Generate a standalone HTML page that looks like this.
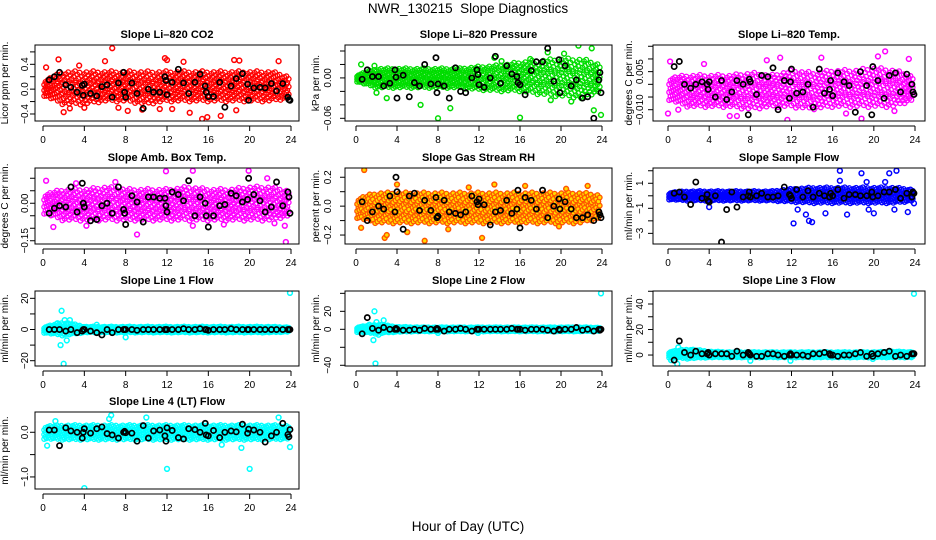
<!DOCTYPE html>
<html><head><meta charset="utf-8">
<style>
html,body{margin:0;padding:0;background:#fff;}
svg{display:block;font-family:"Liberation Sans",sans-serif;}
</style></head>
<body>
<svg id="chart" width="936" height="540" viewBox="0 0 936 540" xmlns="http://www.w3.org/2000/svg">
<text x="468" y="13" text-anchor="middle" font-size="13.5" style="white-space:pre">NWR_130215  Slope Diagnostics</text>
<text x="468" y="531" text-anchor="middle" font-size="13.5">Hour of Day (UTC)</text>
</svg>
<script>
// ---- data ----
const bandHours = [0,2,4,6,8,10,12,14,16,18,20,22,24];
const blackHours = [0.6,1.1,1.6,2.2,2.7,3.3,3.8,3.9,4,4.6,5.2,5.7,6.2,6.7,7.3,7.8,7.9,8,8.6,9.1,9.7,10.2,10.7,11.3,11.8,11.9,12,12.5,13.1,13.6,14.1,14.7,15.2,15.7,15.8,16,16.5,17.1,17.6,18.2,18.7,19.3,19.8,19.9,20.4,21,21.5,22.1,22.6,23.2,23.7,23.8,23.9];

const co2Lo = [-0.1,-0.25,-0.25,-0.2,-0.2,-0.25,-0.2,-0.2,-0.2,-0.2,-0.2,-0.2,-0.15];
const co2Hi = [0.15,0.3,0.3,0.3,0.3,0.3,0.3,0.3,0.3,0.3,0.3,0.3,0.2];
const co2OutH = [1.5,6.7,2,7.3,11.8,12,15.4,15.9,17.2,18.7,18.5,13.6,6,4,9.6,12.5,11.3,3.5,0.3,22.8,2.6,19,8.2,14.2];
const co2OutV = [0.48,0.66,-0.37,-0.3,0.5,0.47,-0.48,-0.45,-0.43,-0.34,0.47,0.44,0.45,-0.3,-0.33,-0.32,-0.32,0.38,0.35,0.45,-0.31,0.46,-0.35,-0.38];
const co2Blk = [0.15,0.2,0.27,0.07,0.03,-0.05,0.06,-0.1,0.08,-0.07,-0.11,0.04,0.07,-0.13,0.1,0.27,-0.05,-0.13,0.1,-0.07,-0.31,0.0,-0.05,-0.05,0.2,0.14,-0.09,0.11,0.32,0.1,-0.07,0.11,0.24,0.05,-0.05,-0.12,-0.12,0.11,-0.29,0.05,0.17,0.25,0.08,-0.18,0.02,0.03,0.02,0.09,-0.03,0.09,-0.13,-0.17,-0.18];

const presLo = [-0.005,-0.015,-0.015,-0.015,-0.015,-0.015,-0.018,-0.02,-0.02,-0.025,-0.028,-0.03,-0.02];
const presHi = [0.005,0.015,0.015,0.015,0.015,0.015,0.018,0.02,0.025,0.028,0.03,0.03,0.02];
const presOutH = [8,16,9.2,6.3,3,21.7,23,18.7,20.3,23.2,23.9,19,21,14.2,17,2,0.5,1.8,22,13.5];
const presOutV = [-0.06,-0.059,-0.045,-0.04,-0.03,0.048,0.044,0.038,0.036,-0.048,-0.055,-0.033,-0.035,0.025,0.028,-0.022,0.02,0.018,-0.03,0.03];
const presBlk = [-0.002,0.012,0.002,0.002,-0.012,-0.008,0.012,0.001,-0.03,0.004,-0.028,-0.007,-0.012,0.02,-0.009,0.03,-0.022,-0.009,-0.012,-0.03,0.015,-0.02,-0.022,0.0,0.012,0.005,-0.01,-0.014,0.0,0.032,-0.008,0.018,0.006,0.002,-0.007,-0.01,-0.025,0.011,0.024,0.024,0.044,-0.005,0.027,-0.022,0.018,-0.012,-0.003,-0.03,-0.028,-0.06,-0.003,0.008,-0.022];

const tempLo = [-0.006,-0.009,-0.009,-0.009,-0.01,-0.009,-0.009,-0.01,-0.009,-0.009,-0.009,-0.009,-0.006];
const tempHi = [0.003,0.004,0.004,0.004,0.005,0.004,0.006,0.005,0.006,0.006,0.007,0.006,0.003];
const tempOutH = [0,0.2,6,6.7,11.6,18.8,21.1,10.9,14.9,20.4,22,23.4,17.3,9.6,1,3.5];
const tempOutV = [-0.0115,0.009,-0.0125,-0.0125,-0.014,-0.0135,0.013,0.0105,0.0105,0.011,-0.0105,0.01,-0.0115,0.0095,-0.01,0.008];
const tempBlk = [0.007,0.009,0.0,-0.0015,0.0,0.001,0.0,-0.002,0.001,-0.005,0.0015,-0.006,-0.003,0.0015,0.0,-0.012,0.002,0.001,-0.004,0.0035,0.003,0.0065,-0.01,0.0015,-0.0055,0.001,0.006,-0.0035,-0.003,0.0,-0.009,0.006,-0.0035,-0.002,0.0015,-0.0045,0.0045,0.001,-0.0005,-0.011,0.005,-0.0005,-0.012,0.007,0.0015,-0.0055,0.0035,0.0045,-0.003,0.004,0.0,-0.003,-0.004];

const ambLo = [-0.04,-0.07,-0.07,-0.07,-0.07,-0.07,-0.07,-0.07,-0.07,-0.07,-0.07,-0.07,-0.05];
const ambHi = [0.04,0.06,0.06,0.07,0.06,0.06,0.06,0.07,0.06,0.06,0.07,0.07,0.05];
const ambOutH = [0.3,1,11.9,14.5,19.9,21.7,23.5,9.1,4.2,14.5,22.4,23.4,7,3.2,17.5];
const ambOutV = [0.09,-0.095,0.128,0.13,0.13,0.1,-0.155,-0.125,-0.09,-0.09,-0.08,-0.09,0.085,0.08,-0.085];
const ambBlk = [-0.04,-0.02,-0.01,-0.015,0.065,-0.035,0.08,0.0,-0.015,-0.07,-0.065,-0.01,0.0,-0.04,0.065,-0.025,-0.04,-0.085,0.03,0.005,-0.075,0.025,0.025,0.02,0.02,-0.01,-0.035,0.045,0.035,0.01,0.09,-0.05,0.025,0.0,-0.05,-0.095,-0.05,-0.01,-0.005,0.04,0.03,0.005,0.015,0.1,0.035,0.01,-0.035,-0.015,0.085,-0.01,0.045,0.025,-0.04];

const rhLo = [-0.08,-0.12,-0.12,-0.12,-0.12,-0.12,-0.12,-0.12,-0.12,-0.12,-0.12,-0.12,-0.08];
const rhHi = [0.06,0.1,0.1,0.1,0.1,0.1,0.1,0.1,0.1,0.1,0.1,0.1,0.08];
const rhOutH = [0.8,6.7,2.8,12.3,3,5,13.5,4,20.5,22.6,16.5,0.5,9,11,19.8];
const rhOutV = [0.25,-0.24,-0.22,-0.22,-0.2,-0.18,0.15,0.15,0.12,0.14,0.14,-0.15,-0.16,0.13,-0.14];
const rhBlk = [0.03,-0.1,-0.04,0.0,-0.02,0.07,-0.04,0.2,0.1,-0.16,0.07,0.09,-0.03,0.04,-0.03,0.06,-0.08,-0.07,0.04,-0.04,-0.05,-0.06,-0.04,0.07,0.03,0.01,0.05,0.01,-0.13,-0.04,-0.03,0.04,-0.05,-0.02,0.11,-0.15,0.06,0.04,-0.02,0.11,-0.08,0.0,0.05,-0.02,0.03,-0.02,-0.08,-0.08,-0.06,-0.1,-0.04,-0.06,-0.08];

const flowLo = [-0.3,-0.4,-0.4,-0.4,-0.4,-0.4,-0.5,-0.6,-0.6,-0.6,-0.6,-0.6,-0.4];
const flowHi = [0.3,0.4,0.4,0.4,0.4,0.4,0.6,0.7,0.7,0.7,0.7,0.7,0.5];
const flowOutH = [16.7,18.8,22.2,21.5,12.2,13.7,14,13.4,15.3,20,23.3,17.4,19.5,22,16.7,19.3,21.1,12.6,4,23.9];
const flowOutV = [2.0,1.8,2.0,1.8,-2.2,-2.0,-2.1,-1.5,-1.4,-1.4,-1.3,-1.5,-1.1,-1.1,1.2,1.1,1.1,-1.1,-0.9,-0.6];
const flowBlk = [0.2,0.3,-0.1,-0.7,1.1,-0.2,0.1,-0.4,-0.5,0.0,-3.7,-1.1,0.3,-0.9,-0.1,0.0,0.3,-0.1,0.0,0.2,-0.1,-0.1,0.0,0.7,0.1,0.0,-0.2,0.5,-0.1,0.4,-0.1,0.2,0.0,-0.1,0.2,0.0,0.5,-0.2,0.1,0.1,0.0,0.0,0.3,-0.1,0.0,0.3,0.3,0.5,-0.2,0.2,-0.1,0.3,0.2];

const l1Lo = [-2,-4,-2,-2,-2,-2,-2,-2,-2,-2,-2,-2,-1.5];
const l1Hi = [2,5,2,2,2,2,2,2,2,2,2,2,1.5];
const l1OutH = [1.8,1.7,2,2.3,2.6,2.1,8,23.9,5.2,1.4];
const l1OutV = [12,-10,-22,-7,6,6,-5,23.5,3,4];
const l1Blk = [0,0,0,-1,0,-2,-1,0,0,-1,-2,-3.5,0,-2,0,0,0,0,0,-0.5,0,0,0,0,0,0,0,0,0,0.5,0,0,0.5,0,0,-0.5,0,0,0,0.5,0,0,0,0,0,0,0,0,0,0,0,0,0];

const l2Lo = [-3,-5,-3,-2.5,-2.5,-2.5,-2.5,-2.5,-2.5,-2.5,-2.5,-2.5,-2];
const l2Hi = [3,6,3,2.5,2.5,2.5,2.5,2.5,2.5,2.5,2.5,2.5,2];
const l2OutH = [1.8,1.7,1.9,2.2,2.7,2,23.9,8,11.9,1.3];
const l2OutV = [20,-12,-38,-6,10,8,40,-4,-4,5];
const l2Blk = [-5,13,1,-1,2,0,0,1,0,-1,-1,0,-1,1,0,0,1,0,-2,0,0,1,0,-2,0,0,0,0,0,0,0,0,1,0,0,0,-1,0,0,0,-1,-2,0,-1,0,0,2,-1,0,-2,0,-1,0];

const l3Lo = [-2,-3,-2,-2,-2,-2,-2,-2,-2,-2,-2,-2,-2];
const l3Hi = [3,5,3,2.5,2.5,2.5,2.5,2.5,2.5,2.5,2.5,3,2.5];
const l3OutH = [0.9,8,11.9,23.9,1,19.9,0.3];
const l3OutV = [-7,-4.5,-4.5,48,6,-3,-4];
const l3Blk = [-4,11,2,0,3,1,1,2,0,1,1,1,-1,3,0,2,1,0,-1,-1,1,1,0,-1,0,1,0,0,0,-1,1,1,2,1,0,0,-1,0,0,1,2,-1,1,-1,1,2,3,-1,0,-1,1,1,1];

const l4Lo = [-0.15,-0.17,-0.17,-0.17,-0.17,-0.17,-0.17,-0.17,-0.17,-0.17,-0.17,-0.17,-0.15];
const l4Hi = [0.15,0.17,0.17,0.17,0.17,0.17,0.17,0.17,0.17,0.17,0.17,0.17,0.15];
const l4OutH = [4,12,20,6.6,10,22.8,23.9,0.4,19.2,17.3,1.2,6.4];
const l4OutV = [-1.25,-0.82,-0.82,0.38,0.33,0.33,-0.33,-0.3,-0.35,-0.28,0.25,0.3];
const l4Blk = [0.05,0.05,-0.3,0.1,0.03,0.0,-0.13,0.0,0.08,-0.02,0.08,0.12,-0.03,-0.06,-0.13,0.0,0.02,-0.01,-0.02,-0.2,0.15,-0.13,0.03,0.05,-0.08,-0.2,0.1,0.04,-0.12,-0.15,0.08,0.06,0.0,0.2,-0.06,-0.08,0.04,-0.12,0.0,0.03,0.01,0.18,-0.02,0.07,0.05,0.0,-0.22,-0.08,0.0,0.2,-0.05,-0.1,0.06];

const xTicks = [0,4,8,12,16,20,24];

// ---- layout ----
const cols = [{l:35,r:299,x0:43,x24:291,tl:28,yl:8},{l:345,r:612,x0:356,x24:602,tl:331,yl:319},{l:653,r:925,x0:668,x24:915,tl:643,yl:632}];
const rows = [{t:45,b:121},{t:168,b:244},{t:291,b:366},{t:412,b:489}];

const panels = [
 {name:'co2',title:'Slope Li\u2013820 CO2',ylab:'Licor ppm per min.',c:0,r:0,ymin:-0.513,ymax:0.711,ticks:[-0.4,-0.2,0,0.2,0.4,0.6],labs:[[-0.4,'\u22120.4'],[0,'0.0'],[0.4,'0.4']],col:'#ff0000',fill:'none',lo:co2Lo,hi:co2Hi,oh:co2OutH,ov:co2OutV,bk:co2Blk},
 {name:'pressure',title:'Slope Li\u2013820 Pressure',ylab:'kPa per min.',c:1,r:0,ymin:-0.064,ymax:0.0489,ticks:[-0.06,-0.04,-0.02,0,0.02,0.04],labs:[[-0.06,'\u22120.06'],[0,'0.00']],col:'#00dd00',fill:'none',lo:presLo,hi:presHi,oh:presOutH,ov:presOutV,bk:presBlk},
 {name:'temp',title:'Slope Li\u2013820 Temp.',ylab:'degrees C per min.',c:2,r:0,ymin:-0.01445,ymax:0.0155,ticks:[-0.01,-0.005,0,0.005,0.01,0.015],labs:[[-0.01,'\u22120.010'],[0.005,'0.005']],col:'#ff00ff',fill:'none',lo:tempLo,hi:tempHi,oh:tempOutH,ov:tempOutV,bk:tempBlk},
 {name:'amb-box-temp',title:'Slope Amb. Box Temp.',ylab:'degrees C per min.',c:0,r:1,ymin:-0.163,ymax:0.141,ticks:[-0.15,-0.1,-0.05,0,0.05,0.1],labs:[[-0.15,'\u22120.15'],[0,'0.00']],col:'#ff00ff',fill:'none',lo:ambLo,hi:ambHi,oh:ambOutH,ov:ambOutV,bk:ambBlk},
 {name:'gas-stream-rh',title:'Slope Gas Stream RH',ylab:'percent per min.',c:1,r:1,ymin:-0.262,ymax:0.264,ticks:[-0.2,-0.1,0,0.1,0.2],labs:[[-0.2,'\u22120.2'],[0,'0.0'],[0.2,'0.2']],col:'#ff5500',fill:'#ffdd00',lo:rhLo,hi:rhHi,oh:rhOutH,ov:rhOutV,bk:rhBlk},
 {name:'sample-flow',title:'Slope Sample Flow',ylab:'ml/min per min.',c:2,r:1,ymin:-3.85,ymax:2.22,ticks:[-3,-2,-1,0,1,2],labs:[[-3,'\u22123'],[-1,'\u22121'],[1,'1']],col:'#0000ff',fill:'none',lo:flowLo,hi:flowHi,oh:flowOutH,ov:flowOutV,bk:flowBlk},
 {name:'line1-flow',title:'Slope Line 1 Flow',ylab:'ml/min per min.',c:0,r:2,ymin:-23.4,ymax:24.7,ticks:[-20,-10,0,10,20],labs:[[-20,'\u221220'],[0,'0'],[20,'20']],col:'#00ffff',fill:'none',lo:l1Lo,hi:l1Hi,oh:l1OutH,ov:l1OutV,bk:l1Blk},
 {name:'line2-flow',title:'Slope Line 2 Flow',ylab:'ml/min per min.',c:1,r:2,ymin:-40.8,ymax:42.6,ticks:[-40,-20,0,20,40],labs:[[-40,'\u221240'],[0,'0'],[20,'20']],col:'#00ffff',fill:'none',lo:l2Lo,hi:l2Hi,oh:l2OutH,ov:l2OutV,bk:l2Blk},
 {name:'line3-flow',title:'Slope Line 3 Flow',ylab:'ml/min per min.',c:2,r:2,ymin:-8.6,ymax:50.2,ticks:[0,10,20,30,40,50],labs:[[0,'0'],[20,'20'],[40,'40']],col:'#00ffff',fill:'none',lo:l3Lo,hi:l3Hi,oh:l3OutH,ov:l3OutV,bk:l3Blk},
 {name:'line4-flow',title:'Slope Line 4 (LT) Flow',ylab:'ml/min per min.',c:0,r:3,ymin:-1.27,ymax:0.454,ticks:[-1,-0.5,0],labs:[[-1,'\u22121.0'],[0,'0.0']],col:'#00ffff',fill:'none',lo:l4Lo,hi:l4Hi,oh:l4OutH,ov:l4OutV,bk:l4Blk}
];

const NS='http://www.w3.org/2000/svg';
const svg=document.getElementById('chart');
function mk(tag,attrs,parent){const e=document.createElementNS(NS,tag);for(const k in attrs)e.setAttribute(k,attrs[k]);(parent||svg).appendChild(e);return e;}
function interp(xs,ys,x){for(let i=0;i<xs.length-1;i++){if(x<=xs[i+1]){const t=(x-xs[i])/(xs[i+1]-xs[i]);return ys[i]+t*(ys[i+1]-ys[i]);}}return ys[ys.length-1];}
const stagger=[0,0.37,0.71,0.18,0.55,0.89,0.29,0.63];

panels.forEach(p=>{
  const C=cols[p.c],R=rows[p.r];
  const xs=h=>C.x0+(h/24)*(C.x24-C.x0);
  const ys=v=>R.b-(v-p.ymin)/(p.ymax-p.ymin)*(R.b-R.t);
  const g=mk('g',{});
  
  
  const clipId='clip-'+p.name;
  const cp=mk('clipPath',{id:clipId},g);
  mk('rect',{x:C.l,y:R.t,width:C.r-C.l,height:R.b-R.t},cp);
  const pts=mk('g',{'clip-path':'url(#'+clipId+')'},g);
  const band=mk('g',{},pts);
  
  
  const nRows=6;
  let idx=0;
  for(let h=0.15;h<=23.9;h+=0.22){
    const lo=interp(bandHours,p.lo,h),hi=interp(bandHours,p.hi,h);
    const off=stagger[idx%stagger.length];
    for(let k=0;k<nRows;k++){
      const frac=(k+off)/nRows;
      const v=lo+(hi-lo)*frac;
      const hh=h+((k%2)?0.09:-0.04);
      const c=mk('circle',{cx:xs(hh),cy:ys(v),r:2.3,fill:p.fill,stroke:p.col,'stroke-width':1.3},band);
      
      
    }
    idx++;
  }
  p.oh.forEach((h,i)=>{
    const c=mk('circle',{cx:xs(h),cy:ys(p.ov[i]),r:2.4,fill:p.fill,stroke:p.col,'stroke-width':1.5},pts);
    
    
  });
  const n=Math.min(blackHours.length,p.bk.length);
  for(let i=0;i<n;i++){
    const c=mk('circle',{cx:xs(blackHours[i]),cy:ys(p.bk[i]),r:2.6,fill:'none',stroke:'#000','stroke-width':1.7},pts);
    
    
  }
  const box=mk('rect',{x:C.l,y:R.t,width:C.r-C.l,height:R.b-R.t,fill:'none',stroke:'#000','stroke-width':1},g);
  
  
  const xa=mk('g',{},g);
  
  
  const ay=R.b+5;
  mk('line',{x1:xs(0),x2:xs(24),y1:ay,y2:ay,stroke:'#000'},xa);
  xTicks.forEach(t=>{
    mk('line',{x1:xs(t),x2:xs(t),y1:ay,y2:ay+5,stroke:'#000'},xa);
    const tx=mk('text',{x:xs(t),y:ay+17,'text-anchor':'middle','font-size':10},xa);
    tx.textContent=t;
    
    
  });
  const ya=mk('g',{},g);
  
  
  const tv=p.ticks.filter(t=>t>=p.ymin&&t<=p.ymax);
  mk('line',{x1:C.l,x2:C.l,y1:ys(tv[0]),y2:ys(tv[tv.length-1]),stroke:'#000'},ya);
  tv.forEach(t=>{mk('line',{x1:C.l-5,x2:C.l,y1:ys(t),y2:ys(t),stroke:'#000'},ya);});
  p.labs.forEach(([v,s])=>{
    const yy=ys(v);
    const tx=mk('text',{x:C.tl,y:yy,'text-anchor':'middle','font-size':10,transform:'rotate(-90 '+C.tl+' '+yy+')'},ya);
    tx.textContent=s;
    
    
  });
  const ym=(R.t+R.b)/2;
  const yl=mk('text',{x:C.yl,y:ym,'text-anchor':'middle','font-size':10,transform:'rotate(-90 '+C.yl+' '+ym+')'},g);
  yl.textContent=p.ylab;
  
  
  const tt=mk('text',{x:(C.l+C.r)/2,y:R.t-7,'text-anchor':'middle','font-size':11,'font-weight':'bold'},g);
  tt.textContent=p.title;
  
  
});
</script>
</body></html>
